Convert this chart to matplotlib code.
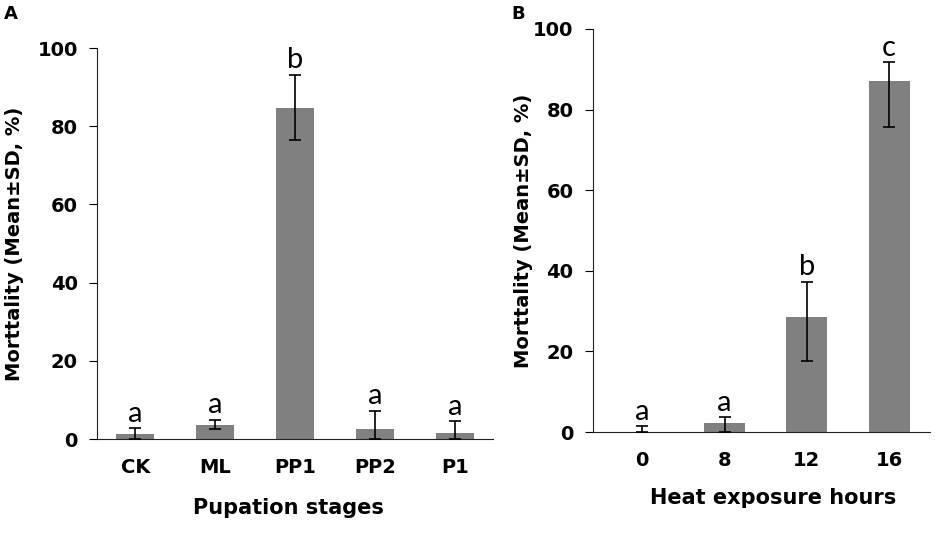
import matplotlib
matplotlib.use('Agg')
import matplotlib.pyplot as plt
import numpy as np

# panel A data
stages = ['CK', 'ML', 'PP1', 'PP2', 'P1']
mort_a = [1.4, 3.5, 84.7, 2.6, 1.5]
err_a_lo = [1.4, 1.0, 8.3, 2.6, 1.5]
err_a_hi = [1.4, 1.4, 8.5, 4.6, 3.0]
letters_a = ['a', 'a', 'b', 'a', 'a']

# panel B data
hours = ['0', '8', '12', '16']
mort_b = [0.0, 2.2, 28.6, 87.2]
err_b_lo = [0.0, 2.2, 11.0, 11.5]
err_b_hi = [1.5, 1.5, 8.7, 4.5]
letters_b = ['a', 'a', 'b', 'c']

BAR_C = '#808080'
YLAB = 'Morttality (Mean\u00b1SD, %)'


def draw_panel(ax, cats, vals, lo, hi, letters, width, xlim, xlabel, xlab_xy):
    x = np.arange(len(cats))
    ax.bar(x, vals, width=width, color=BAR_C, zorder=2)
    ax.errorbar(x, vals, yerr=[lo, hi], fmt='none', ecolor='black',
                elinewidth=1.2, capsize=4.5, capthick=1.2, zorder=3)
    for xi, v, h, s in zip(x, vals, hi, letters):
        ax.annotate(s, (xi, v + h), xytext=(0, 1), textcoords='offset points',
                    ha='center', va='bottom', fontsize=21, family='Lato')
    ax.set_xlim(*xlim)
    ax.set_ylim(0, 100)
    ax.set_yticks(range(0, 101, 20))
    ax.set_xticks(x)
    ax.set_xticklabels(cats)
    ax.spines['top'].set_visible(False)
    ax.spines['right'].set_visible(False)
    ax.spines['left'].set_color('#222222')
    ax.spines['bottom'].set_color('#222222')
    ax.tick_params(axis='x', length=0, pad=14, labelsize=14)
    ax.tick_params(axis='y', length=6, pad=8, labelsize=14, direction='out')
    for lab in ax.get_xticklabels() + ax.get_yticklabels():
        lab.set_fontweight('bold')
    ax.set_xlabel(xlabel, fontsize=15, fontweight='bold')
    ax.xaxis.set_label_coords(*xlab_xy)
    ax.set_ylabel(YLAB, fontsize=14, fontweight='bold', labelpad=10)


fig = plt.figure(figsize=(9.35, 5.43), dpi=100)
ax1 = fig.add_axes([0.104, 0.1915, 0.423, 0.7201])
ax2 = fig.add_axes([0.634, 0.2044, 0.361, 0.7422])

draw_panel(ax1, stages, mort_a, err_a_lo, err_a_hi, letters_a, 0.48,
           (-0.475, 4.475), 'Pupation stages', (0.483, -0.15))
draw_panel(ax2, hours, mort_b, err_b_lo, err_b_hi, letters_b, 0.5,
           (-0.6, 3.5), 'Heat exposure hours', (0.535, -0.14))
ax2.yaxis.set_label_coords(-0.178, 0.5)

fig.text(0.004, 0.99, 'A', fontsize=13, fontweight='bold', va='top')
fig.text(0.547, 0.99, 'B', fontsize=13, fontweight='bold', va='top')

fig.savefig('out.png', dpi=100)
